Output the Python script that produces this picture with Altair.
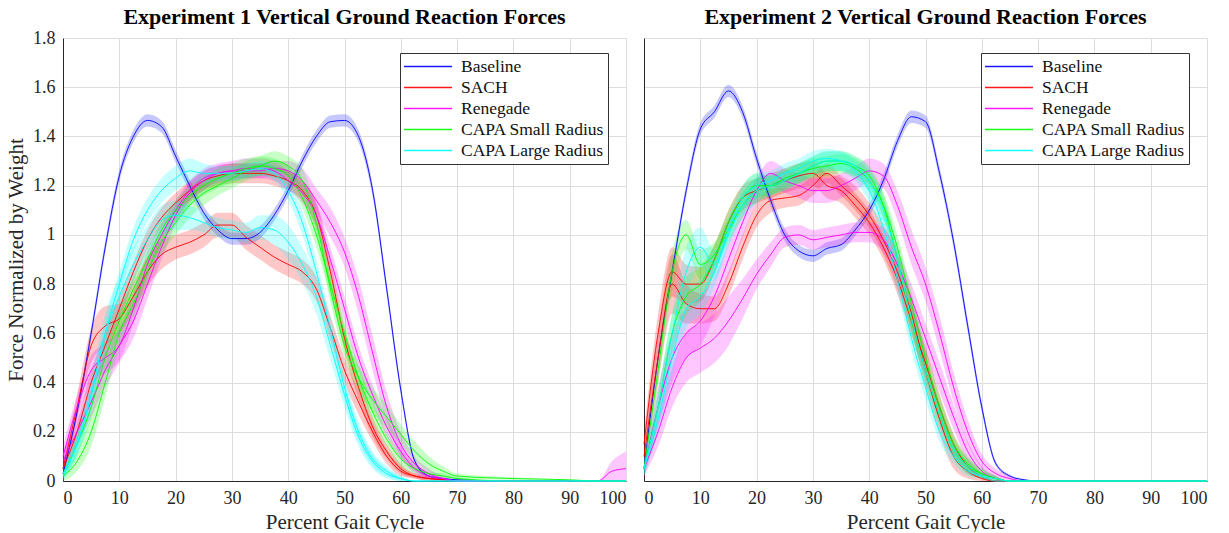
import altair as alt
import pandas as pd

# ---------------- data ----------------
X = [0, 2.5, 5, 7.5, 10, 12.5, 15, 17.5, 20, 22.5,
     25, 27.5, 30, 32.5, 35, 37.5, 40, 42.5, 45, 47.5,
     50, 52.5, 55, 57.5, 60, 62.5, 65, 67.5, 70, 80,
     90, 95, 97.5, 100]

CONDITIONS = ["Baseline", "SACH", "Renegade", "CAPA Small Radius", "CAPA Large Radius"]
COLORS = ["#0000ff", "#ff0000", "#ff00ff", "#00ff00", "#00ffff"]
TITLES = ["Experiment 1 Vertical Ground Reaction Forces",
          "Experiment 2 Vertical Ground Reaction Forces"]
X_TICKS = [0, 10, 20, 30, 40, 50, 60, 70, 80, 90, 100]
Y_TICKS = [0, 0.2, 0.4, 0.6, 0.8, 1, 1.2, 1.4, 1.6, 1.8]

# ---- Experiment 1 ----
E1_BASE = [0.03, 0.28, 0.60, 0.95, 1.24, 1.40, 1.465, 1.44, 1.32, 1.20,
           1.09, 1.02, 0.985, 0.985, 1.01, 1.08, 1.18, 1.30, 1.40, 1.46,
           1.465, 1.40, 1.18, 0.78, 0.37, 0.08, 0.02, 0.01, 0.005, 0,
           0, 0, 0, 0]
E1_BASE_SD = [0.01, 0.02, 0.025, 0.025, 0.025, 0.025, 0.025, 0.025, 0.025, 0.025,
              0.025, 0.025, 0.025, 0.025, 0.025, 0.025, 0.025, 0.025, 0.025, 0.025,
              0.025, 0.025, 0.025, 0.025, 0.02, 0.01, 0.005, 0.003, 0.002, 0,
              0, 0, 0, 0]
E1_SACH_A = [0.05, 0.30, 0.55, 0.63, 0.66, 0.75, 0.85, 0.92, 0.95, 0.97,
             1.00, 1.04, 1.04, 0.99, 0.95, 0.91, 0.88, 0.85, 0.78, 0.62,
             0.45, 0.32, 0.20, 0.10, 0.04, 0.02, 0.01, 0.005, 0, 0,
             0, 0, 0, 0]
E1_SACH_A_SD = [0.03, 0.05, 0.07, 0.08, 0.06, 0.06, 0.06, 0.06, 0.05, 0.05,
                0.05, 0.05, 0.05, 0.05, 0.05, 0.05, 0.05, 0.05, 0.05, 0.05,
                0.05, 0.05, 0.04, 0.03, 0.02, 0.01, 0.01, 0.005, 0, 0,
                0, 0, 0, 0]
E1_SACH_B = [0.05, 0.20, 0.40, 0.55, 0.70, 0.85, 0.98, 1.07, 1.13, 1.18,
             1.22, 1.24, 1.25, 1.25, 1.25, 1.24, 1.22, 1.18, 1.08, 0.85,
             0.58, 0.38, 0.22, 0.12, 0.05, 0.02, 0.01, 0.005, 0, 0,
             0, 0, 0, 0]
E1_SACH_B_SD = [0.02, 0.04, 0.05, 0.05, 0.05, 0.04, 0.04, 0.04, 0.04, 0.04,
                0.04, 0.04, 0.04, 0.04, 0.04, 0.04, 0.04, 0.04, 0.05, 0.05,
                0.05, 0.05, 0.04, 0.03, 0.02, 0.01, 0.01, 0.005, 0, 0,
                0, 0, 0, 0]
E1_REN_A = [0.08, 0.20, 0.32, 0.45, 0.55, 0.65, 0.80, 0.95, 1.08, 1.17,
            1.22, 1.25, 1.26, 1.26, 1.26, 1.27, 1.26, 1.22, 1.14, 1.05,
            0.93, 0.75, 0.52, 0.30, 0.15, 0.07, 0.03, 0.01, 0, 0,
            0, 0, 0.04, 0.05]
E1_REN_A_SD = [0.04, 0.05, 0.06, 0.07, 0.07, 0.07, 0.06, 0.05, 0.04, 0.04,
               0.04, 0.03, 0.03, 0.03, 0.03, 0.03, 0.04, 0.05, 0.05, 0.06,
               0.06, 0.07, 0.07, 0.06, 0.05, 0.03, 0.02, 0.01, 0, 0,
               0, 0, 0.04, 0.07]
E1_REN_B = [0.10, 0.30, 0.45, 0.50, 0.55, 0.70, 0.88, 1.00, 1.10, 1.18,
            1.23, 1.25, 1.26, 1.27, 1.27, 1.26, 1.22, 1.17, 1.08, 0.90,
            0.70, 0.50, 0.35, 0.22, 0.12, 0.05, 0.02, 0.01, 0, 0,
            0, 0, 0, 0]
E1_REN_B_SD = [0.04, 0.05, 0.06, 0.06, 0.06, 0.06, 0.05, 0.04, 0.04, 0.04,
               0.04, 0.04, 0.04, 0.04, 0.04, 0.04, 0.04, 0.04, 0.05, 0.05,
               0.05, 0.05, 0.04, 0.04, 0.03, 0.02, 0.01, 0.005, 0, 0,
               0, 0, 0, 0]
E1_CS_A = [0.02, 0.08, 0.20, 0.40, 0.60, 0.72, 0.85, 0.97, 1.05, 1.12,
           1.17, 1.20, 1.23, 1.26, 1.28, 1.30, 1.28, 1.22, 1.05, 0.78,
           0.55, 0.42, 0.33, 0.26, 0.19, 0.12, 0.07, 0.04, 0.02, 0.01,
           0.005, 0, 0, 0]
E1_CS_A_SD = [0.02, 0.04, 0.06, 0.06, 0.06, 0.05, 0.05, 0.05, 0.05, 0.05,
              0.05, 0.04, 0.04, 0.04, 0.04, 0.04, 0.04, 0.05, 0.05, 0.05,
              0.05, 0.05, 0.05, 0.05, 0.04, 0.04, 0.03, 0.02, 0.01, 0.005,
              0, 0, 0, 0]
E1_CS_B = [0.03, 0.15, 0.30, 0.50, 0.65, 0.78, 0.90, 1.02, 1.10, 1.16,
           1.20, 1.23, 1.25, 1.27, 1.28, 1.27, 1.24, 1.15, 1.00, 0.80,
           0.60, 0.42, 0.28, 0.17, 0.09, 0.05, 0.03, 0.02, 0.01, 0,
           0, 0, 0, 0]
E1_CS_B_SD = [0.02, 0.04, 0.05, 0.05, 0.05, 0.05, 0.04, 0.04, 0.04, 0.04,
              0.04, 0.04, 0.04, 0.04, 0.04, 0.04, 0.04, 0.04, 0.05, 0.05,
              0.05, 0.05, 0.04, 0.03, 0.03, 0.02, 0.01, 0.01, 0.005, 0,
              0, 0, 0, 0]
E1_CL_A = [0.03, 0.15, 0.35, 0.60, 0.75, 0.88, 0.98, 1.06, 1.08, 1.07,
           1.05, 1.03, 1.02, 1.01, 1.03, 1.02, 0.97, 0.88, 0.75, 0.55,
           0.35, 0.18, 0.08, 0.03, 0.01, 0, 0, 0, 0, 0,
           0, 0, 0, 0]
E1_CL_A_SD = [0.02, 0.05, 0.07, 0.08, 0.08, 0.07, 0.06, 0.06, 0.06, 0.05,
              0.04, 0.04, 0.04, 0.04, 0.05, 0.06, 0.07, 0.07, 0.07, 0.06,
              0.05, 0.04, 0.03, 0.02, 0.01, 0, 0, 0, 0, 0,
              0, 0, 0, 0]
E1_CL_B = [0.02, 0.15, 0.35, 0.60, 0.80, 0.98, 1.10, 1.18, 1.23, 1.26,
           1.25, 1.25, 1.25, 1.26, 1.27, 1.25, 1.18, 1.05, 0.85, 0.62,
           0.38, 0.20, 0.09, 0.04, 0.01, 0, 0, 0, 0, 0,
           0, 0, 0, 0]
E1_CL_B_SD = [0.02, 0.04, 0.05, 0.05, 0.05, 0.05, 0.05, 0.05, 0.05, 0.05,
              0.04, 0.03, 0.03, 0.03, 0.03, 0.03, 0.04, 0.05, 0.05, 0.05,
              0.05, 0.04, 0.03, 0.02, 0.01, 0, 0, 0, 0, 0,
              0, 0, 0, 0]

# ---- Experiment 2 ----
E2_BASE = [0.05, 0.50, 0.85, 1.18, 1.43, 1.50, 1.585, 1.50, 1.31, 1.14,
           1.00, 0.935, 0.915, 0.945, 0.96, 1.02, 1.10, 1.22, 1.38, 1.48,
           1.46, 1.25, 0.97, 0.63, 0.30, 0.07, 0.02, 0.005, 0, 0,
           0, 0, 0, 0]
E2_BASE_SD = [0.01, 0.02, 0.025, 0.025, 0.025, 0.025, 0.025, 0.025, 0.025, 0.025,
              0.025, 0.025, 0.025, 0.025, 0.025, 0.025, 0.025, 0.025, 0.025, 0.025,
              0.025, 0.025, 0.025, 0.025, 0.02, 0.01, 0.005, 0.003, 0, 0,
              0, 0, 0, 0]
E2_SACH_A = [0.10, 0.50, 0.80, 0.72, 0.70, 0.70, 0.80, 0.95, 1.08, 1.14,
             1.15, 1.16, 1.20, 1.25, 1.20, 1.15, 1.08, 0.98, 0.85, 0.68,
             0.45, 0.25, 0.10, 0.04, 0.01, 0, 0, 0, 0, 0,
             0, 0, 0, 0]
E2_SACH_A_SD = [0.05, 0.10, 0.12, 0.08, 0.06, 0.05, 0.05, 0.05, 0.05, 0.05,
                0.04, 0.04, 0.04, 0.04, 0.04, 0.05, 0.05, 0.06, 0.07, 0.07,
                0.07, 0.06, 0.05, 0.03, 0.01, 0, 0, 0, 0, 0,
                0, 0, 0, 0]
E2_SACH_B = [0.15, 0.60, 0.85, 0.80, 0.80, 0.90, 1.05, 1.15, 1.18, 1.20,
             1.22, 1.24, 1.25, 1.20, 1.18, 1.12, 1.05, 0.95, 0.82, 0.65,
             0.48, 0.30, 0.15, 0.06, 0.02, 0, 0, 0, 0, 0,
             0, 0, 0, 0]
E2_SACH_B_SD = [0.05, 0.08, 0.10, 0.08, 0.07, 0.06, 0.05, 0.05, 0.05, 0.05,
                0.05, 0.05, 0.05, 0.05, 0.05, 0.05, 0.05, 0.05, 0.06, 0.06,
                0.06, 0.05, 0.04, 0.03, 0.01, 0, 0, 0, 0, 0,
                0, 0, 0, 0]
E2_REN_A = [0.05, 0.20, 0.38, 0.50, 0.54, 0.58, 0.65, 0.74, 0.84, 0.92,
            0.99, 1.00, 0.98, 0.99, 1.00, 1.01, 1.01, 0.98, 0.88, 0.74,
            0.58, 0.42, 0.26, 0.12, 0.04, 0.01, 0, 0, 0, 0,
            0, 0, 0, 0]
E2_REN_A_SD = [0.03, 0.06, 0.08, 0.10, 0.10, 0.10, 0.10, 0.08, 0.06, 0.05,
               0.04, 0.04, 0.04, 0.04, 0.04, 0.04, 0.04, 0.05, 0.06, 0.06,
               0.06, 0.06, 0.05, 0.04, 0.02, 0.01, 0, 0, 0, 0,
               0, 0, 0, 0]
E2_REN_B = [0.05, 0.30, 0.50, 0.60, 0.65, 0.75, 0.90, 1.05, 1.18, 1.25,
            1.22, 1.20, 1.18, 1.18, 1.20, 1.23, 1.26, 1.24, 1.12, 0.95,
            0.80, 0.60, 0.38, 0.20, 0.08, 0.03, 0.01, 0, 0, 0,
            0, 0, 0, 0]
E2_REN_B_SD = [0.04, 0.08, 0.10, 0.10, 0.10, 0.08, 0.07, 0.06, 0.05, 0.05,
               0.05, 0.05, 0.05, 0.05, 0.05, 0.05, 0.05, 0.05, 0.06, 0.07,
               0.07, 0.07, 0.06, 0.05, 0.03, 0.02, 0.01, 0, 0, 0,
               0, 0, 0, 0]
E2_CS_A = [0.05, 0.45, 0.85, 1.00, 0.88, 0.92, 1.02, 1.12, 1.18, 1.20,
           1.23, 1.25, 1.28, 1.30, 1.30, 1.28, 1.24, 1.12, 0.90, 0.65,
           0.45, 0.27, 0.13, 0.06, 0.03, 0.01, 0, 0, 0, 0,
           0, 0, 0, 0]
E2_CS_A_SD = [0.03, 0.06, 0.08, 0.06, 0.06, 0.05, 0.05, 0.05, 0.05, 0.04,
              0.04, 0.04, 0.04, 0.04, 0.04, 0.04, 0.04, 0.05, 0.05, 0.05,
              0.05, 0.05, 0.04, 0.03, 0.02, 0.01, 0, 0, 0, 0,
              0, 0, 0, 0]
E2_CS_B = [0.05, 0.30, 0.60, 0.75, 0.80, 0.90, 1.05, 1.15, 1.20, 1.20,
           1.22, 1.25, 1.27, 1.28, 1.29, 1.27, 1.22, 1.12, 0.95, 0.72,
           0.50, 0.30, 0.15, 0.07, 0.03, 0.01, 0, 0, 0, 0,
           0, 0, 0, 0]
E2_CS_B_SD = [0.03, 0.06, 0.08, 0.08, 0.07, 0.06, 0.05, 0.05, 0.05, 0.04,
              0.04, 0.04, 0.04, 0.04, 0.04, 0.04, 0.04, 0.05, 0.05, 0.05,
              0.05, 0.05, 0.04, 0.03, 0.02, 0.01, 0, 0, 0, 0,
              0, 0, 0, 0]
E2_CL_A = [0.05, 0.30, 0.60, 0.85, 0.95, 0.88, 1.02, 1.15, 1.20, 1.22,
           1.25, 1.27, 1.30, 1.31, 1.30, 1.26, 1.18, 1.03, 0.82, 0.58,
           0.38, 0.20, 0.10, 0.04, 0.02, 0.01, 0, 0, 0, 0,
           0, 0, 0, 0]
E2_CL_A_SD = [0.03, 0.06, 0.08, 0.10, 0.08, 0.06, 0.05, 0.05, 0.05, 0.04,
              0.04, 0.04, 0.04, 0.04, 0.04, 0.04, 0.05, 0.05, 0.05, 0.05,
              0.05, 0.04, 0.03, 0.02, 0.01, 0.005, 0, 0, 0, 0,
              0, 0, 0, 0]
E2_CL_B = [0.05, 0.25, 0.50, 0.70, 0.75, 0.85, 1.00, 1.12, 1.18, 1.20,
           1.22, 1.25, 1.28, 1.30, 1.30, 1.28, 1.22, 1.10, 0.90, 0.66,
           0.45, 0.27, 0.13, 0.06, 0.02, 0, 0, 0, 0, 0,
           0, 0, 0, 0]
E2_CL_B_SD = [0.03, 0.06, 0.07, 0.08, 0.07, 0.06, 0.05, 0.05, 0.05, 0.04,
              0.04, 0.04, 0.04, 0.04, 0.04, 0.04, 0.05, 0.05, 0.05, 0.05,
              0.05, 0.04, 0.03, 0.02, 0.01, 0, 0, 0, 0, 0,
              0, 0, 0, 0]

CURVES = [
    (1, "Baseline", "b", E1_BASE, E1_BASE_SD),
    (1, "SACH", "a", E1_SACH_A, E1_SACH_A_SD),
    (1, "SACH", "b", E1_SACH_B, E1_SACH_B_SD),
    (1, "Renegade", "a", E1_REN_A, E1_REN_A_SD),
    (1, "Renegade", "b", E1_REN_B, E1_REN_B_SD),
    (1, "CAPA Small Radius", "a", E1_CS_A, E1_CS_A_SD),
    (1, "CAPA Small Radius", "b", E1_CS_B, E1_CS_B_SD),
    (1, "CAPA Large Radius", "a", E1_CL_A, E1_CL_A_SD),
    (1, "CAPA Large Radius", "b", E1_CL_B, E1_CL_B_SD),
    (2, "Baseline", "b", E2_BASE, E2_BASE_SD),
    (2, "SACH", "a", E2_SACH_A, E2_SACH_A_SD),
    (2, "SACH", "b", E2_SACH_B, E2_SACH_B_SD),
    (2, "Renegade", "a", E2_REN_A, E2_REN_A_SD),
    (2, "Renegade", "b", E2_REN_B, E2_REN_B_SD),
    (2, "CAPA Small Radius", "a", E2_CS_A, E2_CS_A_SD),
    (2, "CAPA Small Radius", "b", E2_CS_B, E2_CS_B_SD),
    (2, "CAPA Large Radius", "a", E2_CL_A, E2_CL_A_SD),
    (2, "CAPA Large Radius", "b", E2_CL_B, E2_CL_B_SD),
]

rows = []
for exp, cond, tag, ys, sds in CURVES:
    for xv, yv, sv in zip(X, ys, sds):
        rows.append({"exp": exp, "cond": cond, "curve": f"{cond}-{tag}",
                     "x": xv, "y": yv, "lo": max(0.0, yv - sv), "hi": yv + sv})
df = pd.DataFrame(rows)

FONT = "Liberation Serif"
TXT = "#262626"
color_scale = alt.Scale(domain=CONDITIONS, range=COLORS)


def make_legend():
    return alt.Legend(
        title=None, orient="none", legendX=337, legendY=15,
        symbolType="stroke", symbolSize=2300,
        symbolStrokeWidth=1.3, clipHeight=21,
        rowPadding=0, padding=3,
        labelFont=FONT, labelFontSize=17.5, labelColor="#111111",
        labelOffset=8, labelLimit=300,
        strokeColor="#333333", fillColor="white")


def panel(exp, show_y, title_offset):
    d = df[df["exp"] == exp]
    base = alt.Chart(d)
    xenc = alt.X("x:Q", scale=alt.Scale(domain=[0, 100], nice=False),
                 axis=alt.Axis(values=X_TICKS, title="Percent Gait Cycle",
                               labelFont=FONT, titleFont=FONT))
    if show_y:
        yaxis = alt.Axis(values=Y_TICKS, format="~g", title="Force Normalized by Weight",
                         labelFont=FONT, titleFont=FONT)
    else:
        yaxis = alt.Axis(values=Y_TICKS, labels=False, title=None)
    yscale = alt.Scale(domain=[0, 1.8], nice=False)
    area = base.mark_area(interpolate="monotone", fillOpacity=0.22,
                          strokeOpacity=0.3, strokeWidth=0.8).encode(
        x=xenc,
        y=alt.Y("lo:Q", scale=yscale, axis=yaxis),
        y2="hi:Q",
        color=alt.Color("cond:N", scale=color_scale, sort=CONDITIONS, legend=make_legend()),
        detail="curve:N",
    )
    line = base.mark_line(interpolate="monotone", strokeWidth=1.0, opacity=0.9).encode(
        x=xenc,
        y=alt.Y("y:Q", scale=yscale, axis=yaxis),
        color=alt.Color("cond:N", scale=color_scale, sort=CONDITIONS, legend=make_legend()),
        detail="curve:N",
    )
    return alt.layer(area, line).properties(
        width=563, height=443,
        title=alt.TitleParams(TITLES[exp - 1], font=FONT, fontSize=22,
                              fontWeight="bold", color="#000000", offset=title_offset,
                              frame="group"),
    )


chart = alt.hconcat(panel(1, True, 0), panel(2, False, 9), spacing=18, bounds="flush")
chart = chart.resolve_legend(color="independent").properties(
    padding={"left": 5, "top": 6, "right": 5, "bottom": 0}, background="white"
).configure(font=FONT).configure_view(stroke=None).configure_axis(
    labelFont=FONT, labelFontSize=18, labelColor=TXT, labelPadding=8,
    titleFont=FONT, titleFontSize=21, titleFontWeight="normal", titleColor=TXT,
    grid=True, gridColor="#dedede", gridWidth=1,
    domainColor=TXT, domainWidth=1, ticks=False,
).configure_axisX(titlePadding=4).configure_axisY(titlePadding=6)

chart.save("out.html", embed_options={"renderer": "svg", "actions": False})
